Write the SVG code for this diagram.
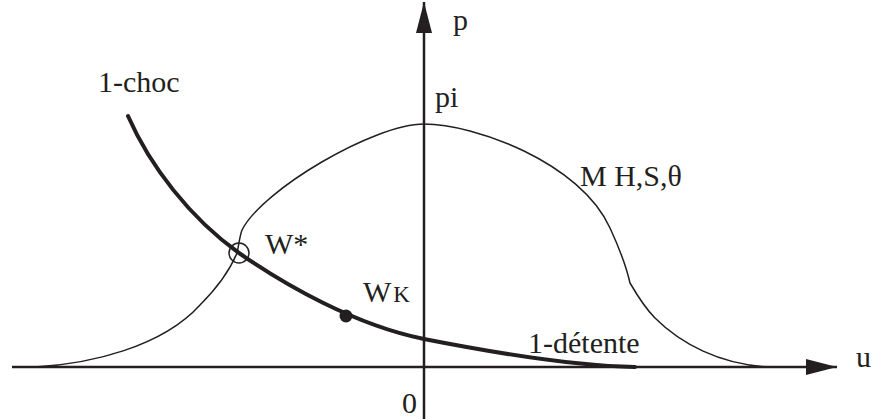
<svg xmlns="http://www.w3.org/2000/svg" width="875" height="419" viewBox="0 0 875 419">
  <style>
    .axis { stroke: #231f20; stroke-width: 2.5; fill: none; }
    .thin { stroke: #231f20; stroke-width: 1.5; fill: none; }
    .thick { stroke: #231f20; stroke-width: 4; fill: none; stroke-linecap: round; }
    text { font-family: "Liberation Serif", "Times New Roman", serif; font-size: 30px; fill: #231f20; }
  </style>
  <defs>
    <marker id="arrow" markerUnits="userSpaceOnUse" markerWidth="32" markerHeight="16" refX="31" refY="8" orient="auto">
      <path d="M0,0 L31,8 L0,16 z" fill="#231f20"/>
    </marker>
  </defs>
  <g id="connectors">
    <line id="axis-u" class="axis" x1="12" y1="367" x2="837" y2="367" marker-end="url(#arrow)"/>
    <line id="axis-p" class="axis" x1="424" y1="419" x2="424" y2="2" marker-end="url(#arrow)"/>
  </g>
  <g id="curve-M">
    <path class="thin" d="M35,367 C90,364 162,347 200,305 C218,287 230,270 237,253 C239,245 239.5,236.5 242,230 C262,190 374,124 424,124 C474,124 580,162 610,228 C616,241 626,265 630,283 C637,295 645,308 655,318 C680,343 720,365 770,367"/>
  </g>
  <g id="curve-1">
    <path class="thick" d="M128,116 C150,166 190,218 239,253 C285,285 355,325 424,339 C490,352 570,366 635,367"/>
  </g>
  <g id="node-Wstar">
    <circle cx="239" cy="253" r="10" class="thin"/>
    <text x="265" y="254">W*</text>
  </g>
  <g id="node-WK">
    <circle cx="346" cy="316" r="6.5" fill="#231f20"/>
    <text x="363" y="302">W<tspan font-size="23" dx="2">K</tspan></text>
  </g>
  <g id="labels">
    <text x="453" y="30">p</text>
    <text x="435" y="107">pi</text>
    <text x="98" y="92">1-choc</text>
    <text x="580" y="186" font-size="25">M H,S,θ</text>
    <text x="528" y="353">1-détente</text>
    <text x="856" y="367">u</text>
    <text x="402" y="413">0</text>
  </g>
</svg>
